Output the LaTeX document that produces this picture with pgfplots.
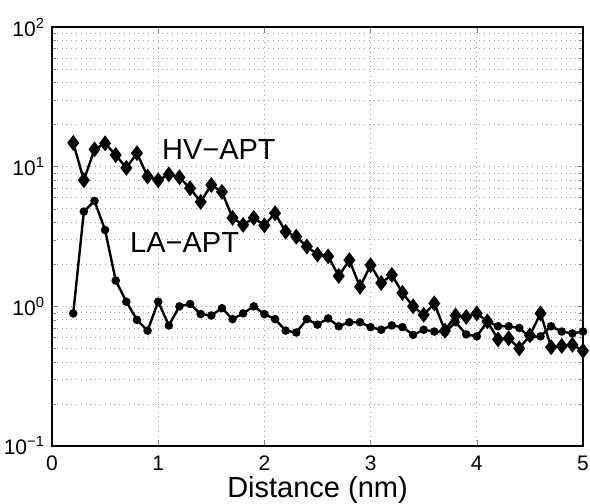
\documentclass[border=0pt]{standalone}
\usepackage{fontspec}
\setmainfont{Liberation Sans}
\usepackage{pgfplots}
\pgfplotsset{compat=1.18}
\begin{document}
\begin{tikzpicture}
\begin{semilogyaxis}[
    width=265.5pt, height=209.5pt,
    scale only axis,
    xmin=0, xmax=5,
    ymin=0.1, ymax=100,
    xtick={0,1,2,3,4,5},
    ytick={0.1,1,10,100},
    yticklabels={10\textsuperscript{−1},10\textsuperscript{0},10\textsuperscript{1},10\textsuperscript{2}},
    /pgf/number format/assume math mode=true,
    tick label style={font=\fontsize{10.5}{12}\selectfont},
    x tick label style={anchor=center, yshift=-8.5pt},
    xlabel={Distance (nm)},
    xlabel style={font=\fontsize{14.5}{16}\selectfont, at={(axis description cs:0.5,0)}, anchor=center, yshift=-22pt},
    tick align=inside,
    tick pos=both,
    major tick length=3pt,
    minor tick length=2pt,
    xmajorgrids=true,
    ymajorgrids=true,
    yminorgrids=true,
    grid style={dotted, gray!75, line width=0.4pt},
    axis line style={line width=0.6pt},
    every axis plot/.append style={line width=1.2pt, black},
    clip=false,
]
% HV-APT
\addplot[mark=diamond*, mark size=3pt] coordinates {
(0.2,14.8)(0.3,8.0)(0.4,13.3)(0.5,14.7)(0.6,12.1)(0.7,9.8)(0.8,12.5)(0.9,8.5)
(1.0,8.0)(1.1,8.8)(1.2,8.4)(1.3,7.0)(1.4,5.6)(1.5,7.4)(1.6,6.6)(1.7,4.3)
(1.8,3.83)(1.9,4.3)(2.0,3.8)(2.1,4.64)(2.2,3.42)(2.3,3.15)(2.4,2.68)(2.5,2.35)
(2.6,2.28)(2.7,1.65)(2.8,2.14)(2.9,1.38)(3.0,1.97)(3.1,1.47)(3.2,1.68)(3.3,1.25)
(3.4,1.0)(3.5,0.87)(3.6,1.05)(3.7,0.67)(3.8,0.86)(3.9,0.84)(4.0,0.89)(4.1,0.78)
(4.2,0.58)(4.3,0.59)(4.4,0.50)(4.5,0.62)(4.6,0.89)(4.7,0.51)(4.8,0.52)(4.9,0.53)
(5.0,0.48)};
% LA-APT
\addplot[mark=*, mark size=1.5pt] coordinates {
(0.2,0.89)(0.3,4.77)(0.4,5.69)(0.5,3.52)(0.6,1.53)(0.7,1.08)(0.8,0.80)(0.9,0.67)
(1.0,1.08)(1.1,0.73)(1.2,1.0)(1.3,1.04)(1.4,0.88)(1.5,0.86)(1.6,0.97)(1.7,0.81)
(1.8,0.89)(1.9,1.0)(2.0,0.88)(2.1,0.81)(2.2,0.67)(2.3,0.65)(2.4,0.81)(2.5,0.74)
(2.6,0.82)(2.7,0.72)(2.8,0.77)(2.9,0.77)(3.0,0.71)(3.1,0.68)(3.2,0.73)(3.3,0.71)
(3.4,0.625)(3.5,0.68)(3.6,0.66)(3.7,0.65)(3.8,0.77)(3.9,0.63)(4.0,0.61)(4.1,0.78)
(4.2,0.72)(4.3,0.72)(4.4,0.70)(4.5,0.60)(4.6,0.61)(4.7,0.72)(4.8,0.66)(4.9,0.64)
(5.0,0.66)};
\node[anchor=west, font=\fontsize{14.5}{16}\selectfont] at (axis cs:0.97,13.2) {HV−APT};
\node[anchor=west, font=\fontsize{14.5}{16}\selectfont] at (axis cs:0.67,2.85) {LA−APT};
\coordinate (bl) at ([shift={(-26pt,-28.5pt)}]rel axis cs:0,0);
\coordinate (tr) at ([shift={(3.5pt,13.5pt)}]rel axis cs:1,1);
\end{semilogyaxis}
\pgfresetboundingbox
\path[use as bounding box] (bl) rectangle (tr);
\end{tikzpicture}
\end{document}
